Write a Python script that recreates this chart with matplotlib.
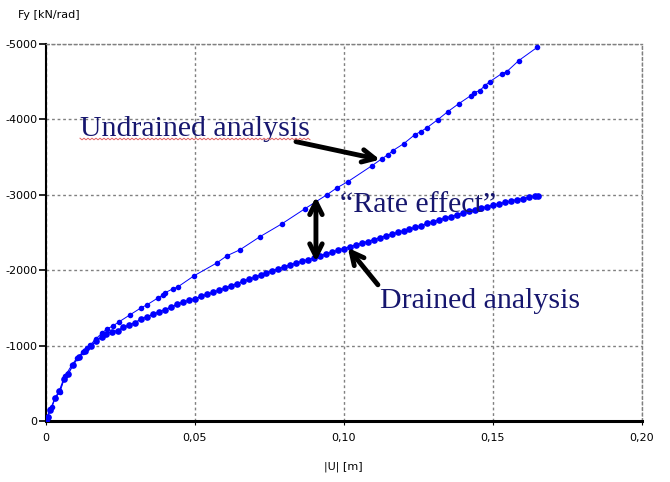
import matplotlib
matplotlib.use("Agg")
import matplotlib.pyplot as plt
import numpy as np

# displacement |U| [m] and reaction Fy [kN/rad] for the undrained run
u_undrained = [0, 0.0005, 0.0013, 0.002, 0.003, 0.0047, 0.0064, 0.0087, 0.0104,
               0.0124, 0.0138, 0.0148, 0.0168, 0.0188, 0.0205, 0.0225, 0.0245,
               0.0282, 0.0319, 0.0339, 0.0376, 0.0393, 0.0399, 0.0426, 0.0443,
               0.0497, 0.0574, 0.0607, 0.0651, 0.0718, 0.0792, 0.0869, 0.0943,
               0.0977, 0.1013, 0.1094, 0.1128, 0.1148, 0.1164, 0.1201, 0.1238,
               0.1258, 0.1279, 0.1315, 0.1349, 0.1386, 0.1426, 0.1436, 0.1456,
               0.1473, 0.149, 0.153, 0.1547, 0.1587, 0.1648]
fy_undrained = [0, -55, -160, -190, -305, -385, -598, -744, -837,
                -916, -969, -1009, -1090, -1169, -1222, -1262, -1315,
                -1408, -1501, -1541, -1633, -1673, -1700, -1753, -1780,
                -1926, -2098, -2191, -2271, -2444, -2616, -2815, -3001,
                -3094, -3174, -3386, -3480, -3532, -3586, -3679, -3798,
                -3838, -3891, -3997, -4104, -4210, -4316, -4356, -4382,
                -4449, -4502, -4608, -4635, -4781, -4954]

# same for the drained run (many more load steps)
u_drained = [0, 0.0005, 0.0015, 0.003, 0.0045, 0.006, 0.0074, 0.009, 0.011,
             0.013, 0.015, 0.0168, 0.0188,
             0.020, 0.022, 0.024, 0.026, 0.028, 0.030, 0.032, 0.034, 0.036,
             0.038, 0.040, 0.042, 0.044, 0.046, 0.048, 0.050, 0.052, 0.054,
             0.056, 0.058, 0.060, 0.062, 0.064, 0.066, 0.068, 0.070, 0.072,
             0.074, 0.076, 0.078, 0.080, 0.082, 0.084, 0.086, 0.088, 0.090,
             0.092, 0.094, 0.096, 0.098, 0.100, 0.102, 0.104, 0.106, 0.108,
             0.110, 0.112, 0.114, 0.116, 0.118, 0.120, 0.122, 0.124, 0.126,
             0.128, 0.130, 0.132, 0.134, 0.136, 0.138, 0.140, 0.142, 0.144,
             0.146, 0.148, 0.150, 0.152, 0.154, 0.156, 0.158, 0.160, 0.162,
             0.164, 0.165]
fy_drained = [0, -55, -150, -300, -400, -560, -620, -740, -850,
              -930, -990, -1060, -1116,
              -1160, -1180, -1200, -1240, -1275, -1305, -1355, -1385, -1415,
              -1448, -1478, -1510, -1545, -1580, -1600, -1620, -1652, -1680,
              -1705, -1735, -1760, -1795, -1820, -1850, -1880, -1905, -1935,
              -1965, -1990, -2020, -2045, -2070, -2095, -2120, -2140, -2162,
              -2190, -2215, -2240, -2265, -2287, -2311, -2335, -2358, -2380,
              -2405, -2430, -2455, -2477, -2500, -2523, -2546, -2568, -2590,
              -2620, -2645, -2668, -2690, -2712, -2735, -2760, -2783, -2803,
              -2823, -2843, -2860, -2880, -2898, -2916, -2935, -2950, -2965,
              -2982, -2990]

x_ticks = [0, 0.05, 0.10, 0.15, 0.20]
x_tick_labels = ["0", "0,05", "0,10", "0,15", "0,20"]
y_ticks = [0, -1000, -2000, -3000, -4000, -5000]
y_tick_labels = ["0", "-1000", "-2000", "-3000", "-4000", "-5000"]

navy = "#16166e"
blue = "#0000ff"

fig = plt.figure(figsize=(6.7, 4.82), dpi=100)
ax = fig.add_axes([0.0687, 0.1266, 0.8893, 0.7821])

ax.plot(u_undrained, fy_undrained, color=blue, lw=0.7, marker="o",
        markersize=4, markeredgewidth=0, zorder=3)
ax.plot(u_drained, fy_drained, color=blue, lw=1.0, marker="o",
        markersize=4.8, markeredgewidth=0, zorder=3)

ax.set_xlim(0, 0.20)
ax.set_ylim(0, -5000)
ax.set_xticks(x_ticks)
ax.set_xticklabels(x_tick_labels)
ax.set_yticks(y_ticks)
ax.set_yticklabels(y_tick_labels)
ax.tick_params(axis="both", labelsize=8, colors="black")
ax.tick_params(axis="x", length=3, width=0.8, pad=6)
ax.tick_params(axis="y", length=5, width=1.2, pad=1)

ax.grid(True, color="#808080", lw=1, linestyle=(0, (2, 2)))
ax.set_axisbelow(True)
for side in ("top", "right"):
    ax.spines[side].set_linestyle((0, (2, 2)))
    ax.spines[side].set_color("#808080")
    ax.spines[side].set_linewidth(1)
ax.spines["left"].set_linewidth(1.5)
ax.spines["bottom"].set_linewidth(2.2)

fig.text(0.027, 0.968, "Fy [kN/rad]", fontsize=8, va="center", ha="left")
fig.text(0.512, 0.031, "|U| [m]", fontsize=8, va="center", ha="center")

# annotations
serif = "Liberation Serif"
ax.text(0.0114, -3785, "Undrained analysis", family=serif, fontsize=21.5,
        color=navy, va="baseline", ha="left")
ax.text(0.0987, -2776, "\u201cRate effect\u201d", family=serif, fontsize=21.5,
        color=navy, va="baseline", ha="left")
ax.text(0.1121, -1500, "Drained analysis", family=serif, fontsize=21.5,
        color=navy, va="baseline", ha="left")

# spell-check squiggle under the first label
sq_x = np.linspace(80, 310, 116) / 670
sq_y = (482 - 139 + np.tile([0.8, -0.8], 58)) / 482
fig.add_artist(plt.Line2D(sq_x, sq_y, color="#e06060", lw=0.7))

arrow = dict(arrowstyle="->,head_length=0.9,head_width=0.45", color="black",
             lw=3.5, shrinkA=0, shrinkB=0)
ax.annotate("", xy=(0.1121, -3466), xytext=(0.0839, -3705), arrowprops=arrow)
ax.annotate("", xy=(0.1013, -2297), xytext=(0.1114, -1806), arrowprops=arrow)
dbl = dict(arrow, arrowstyle="<->,head_length=0.9,head_width=0.45")
ax.annotate("", xy=(0.0906, -2975), xytext=(0.0906, -2112), arrowprops=dbl)

fig.savefig("out.png", dpi=100)
